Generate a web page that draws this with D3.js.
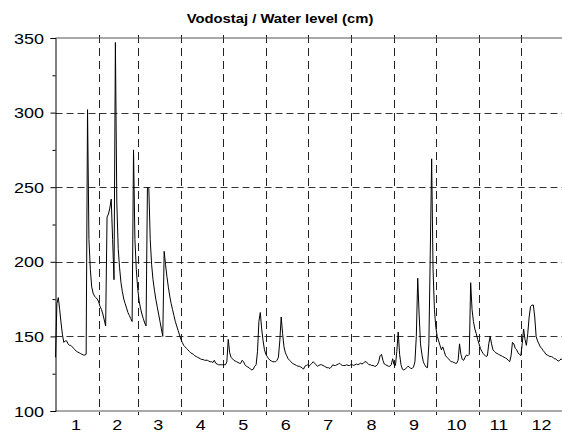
<!DOCTYPE html>
<html>
<head>
<meta charset="utf-8">
<script src="https://cdn.jsdelivr.net/npm/d3@7"></script>
<style>
html,body{margin:0;padding:0;background:#fff;}
svg{display:block;}
</style>
</head>
<body>
<svg id="chart" width="562" height="436"></svg>
<script>
// ---- data ----
const title = "Vodostaj / Water level (cm)";
const monthLabels = ["1","2","3","4","5","6","7","8","9","10","11","12"];
const monthStarts = [0,31,59,90,120,151,181,212,243,273,304,334,365];
const yTicks = [100,150,200,250,300,350];
const yMinorTicks = [125,175,225,275,325];
const yGrid = [150,200,250,300];
// daily water level (cm), day 0..364
const waterLevel = [
136,172,176,168,159,151,146,147,147,145,
144,144,143,142,141,140,139.5,139,138.5,138,
137.5,137.5,138,302,215,195,183,179,177,176,
175,173,170,168,165,161,157,230,232,236,
242,215,188,347,240,209,196,186,180,175,
172,169,166,164,162,160,275,215,195,182,
174,169,165,162,159,157,250,249,215,198,
188,181,175,170,165,160,155,150,207,198,
190,183,177,172,168,164,160,157,154,151,
148,146,144,143,142,141,140,139,138.5,138,
137,136.5,136,135.5,135,134.5,134.5,134,134,134,
133.5,133,133,132.5,134,132,131.5,131,131,131,
131,131,131,133,148,139,136,135,134,133.5,
133,132.5,132,132,134,133,131,130,129.5,129,
128,127.5,128,130,131,140,160,166,155,147,
141,138,136.5,135,134,133.5,133,133,133,134,
136,147,163,152,143,139,137,135,134,133,
132,131.5,131,130.5,130,130,129.5,129,128,130,
130.5,131,130,131,132,133,132,131,130,130.5,
131,131,130.5,130,129.5,129,129,128.5,129.5,131,
130.5,130.5,131,131.5,132,131,130.5,130.5,130.5,131,
130.5,130.5,131,131,130.5,131,131.5,131,131.5,132,
131.5,132,133,133,132,131,131,130.5,130.5,130,
130,131,133,137,138,134,131.5,131,130.5,130,
130,131,135,131,130.5,140,153,138,131,128,
127.5,128,129,130,129.5,128.5,128.5,129.5,133,150,
189,165,145,138,133,131,129.5,129,145,205,
269,195,168,156,150,147,144,141,143,140,
137,136,135,134,133,133,132.5,132,132,134,
145,138,134.5,134,136,137.5,137,138,186,168,
160,155,152,148,145,142,140,138.5,137.5,136.5,
137,145,150,145,141,140,139,138.5,138,137.5,
137,136.5,136,135.5,135,134,133,137,146,145,
142,141,139,138,137,145,155,148,144,152,
163,170,171,171,163,150,147,145,143,142,
140.5,139.5,138,137.5,137,136.5,136.5,136,135,135,
134,133.5,134,135,134
];

(function(){
const svg = d3.select("#chart");
const pL = 55.5, pR = 564, pT = 38, pB = 411;
const x = d3.scaleLinear().domain([0,365]).range([pL,pR]);
const y = d3.scaleLinear().domain([100,350]).range([pB,pT]);
const font = "'Liberation Sans', Arial, Helvetica, sans-serif";
const sx = 1.16;

// title
svg.append("text").attr("transform","translate(280,23) scale(1.14,1)").attr("text-anchor","middle")
  .attr("font-family",font).attr("font-size",13).attr("font-weight","bold")
  .text(title);

// horizontal grid
svg.append("g").selectAll("line").data(yGrid).join("line")
  .attr("x1",pL).attr("x2",562).attr("y1",d=>Math.round(y(d))+0.5).attr("y2",d=>Math.round(y(d))+0.5)
  .attr("stroke","#333").attr("stroke-width",1).attr("stroke-dasharray","7,4");

// vertical month boundary grid
const bounds = monthStarts.slice(1,12);
svg.append("g").selectAll("line").data(bounds).join("line")
  .attr("x1",d=>Math.round(x(d))+0.5).attr("x2",d=>Math.round(x(d))+0.5)
  .attr("y1",pT-3).attr("y2",pB+4)
  .attr("stroke","#222").attr("stroke-width",1).attr("stroke-dasharray","8,5");

// frame: top & bottom
svg.append("line").attr("x1",pL).attr("x2",562).attr("y1",y(350)).attr("y2",y(350))
  .attr("stroke","#555").attr("stroke-width",1.2);
svg.append("line").attr("x1",pL).attr("x2",562).attr("y1",y(100)).attr("y2",y(100))
  .attr("stroke","#555").attr("stroke-width",1.2);

// y axis (ticks via d3 axis, labels placed beside them)
const yAxis = d3.axisLeft(y).tickValues(yTicks).tickSize(5).tickFormat("");
const gy = svg.append("g").attr("transform",`translate(${pL},0)`).call(yAxis);
gy.select(".domain").attr("stroke","#000");
const yMinor = d3.axisLeft(y).tickValues(yMinorTicks).tickSize(3).tickFormat("");
const gy2 = svg.append("g").attr("transform",`translate(${pL},0)`).call(yMinor);
gy2.select(".domain").remove();
svg.append("g").selectAll("text").data(yTicks).join("text")
  .attr("transform",d=>`translate(44,${y(d)}) scale(${sx},1)`)
  .attr("dy","0.36em").attr("text-anchor","end")
  .attr("font-family",font).attr("font-size",15.5).attr("fill","#000")
  .text(d=>d3.format("d")(d));

// x labels (month numbers centered in each month)
const mids = monthLabels.map((m,i)=>({m, c:(monthStarts[i]+monthStarts[i+1])/2}));
svg.append("g").selectAll("text").data(mids).join("text")
  .attr("transform",d=>`translate(${x(d.c)-1},430) scale(${sx},1)`).attr("text-anchor","middle")
  .attr("font-family",font).attr("font-size",15.5).attr("fill","#000")
  .text(d=>d.m);

// data line
const line = d3.line().x((d,i)=>x(i)).y(d=>y(d));
svg.append("path").datum(waterLevel).attr("d",line)
  .attr("fill","none").attr("stroke","#000").attr("stroke-width",1)
  .attr("stroke-linejoin","round");
})();
</script>
</body>
</html>
